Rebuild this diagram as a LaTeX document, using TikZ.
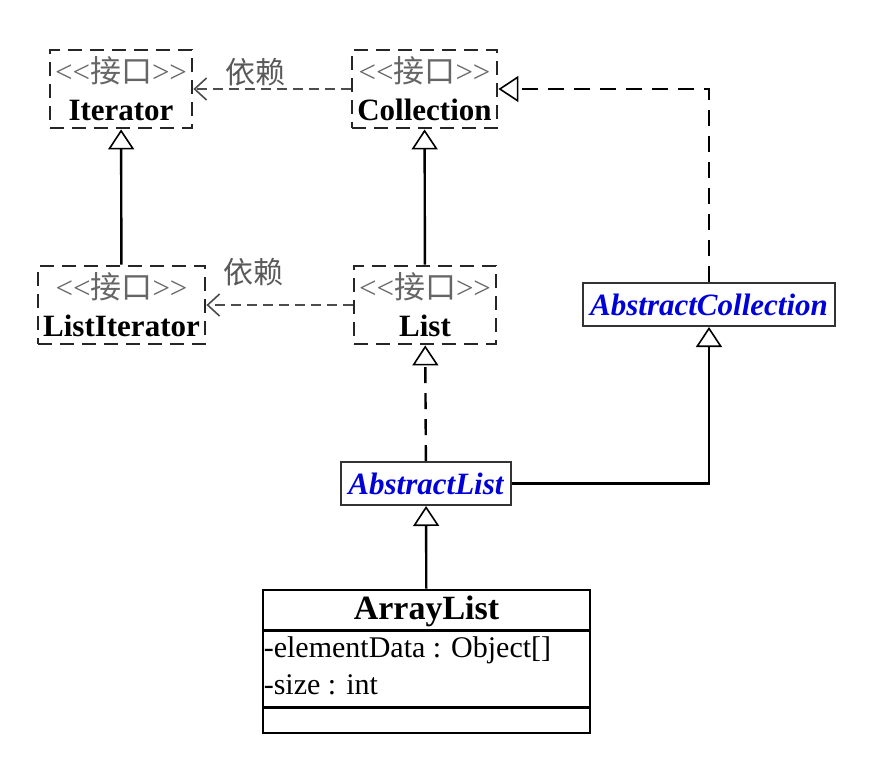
\documentclass[tikz,border=0pt]{standalone}
\usepackage{fontspec}
\setmainfont{Liberation Serif}
\newfontfamily\cjk{Noto Sans CJK SC}
\usepackage{tikz}
\usetikzlibrary{arrows.meta}

\newcommand{\stereo}{\textcolor{black!60}{<\kern0pt<{\cjk 接口}>\kern0pt>}}

\tikzset{
  iface/.style={draw=black!85, line width=2.8pt, dash pattern=on 14pt off 8pt,
    minimum height=78pt, inner sep=0pt, align=center,
    font=\fontsize{31}{38}\selectfont},
  absbox/.style={draw=black!80, line width=2pt, minimum height=43pt, inner sep=0pt,
    text=blue!85!black, font=\fontsize{31}{34}\selectfont\bfseries\itshape},
  classbox/.style={draw, line width=2.8pt, minimum width=327pt, minimum height=143pt, inner sep=0pt},
  txt/.style={inner sep=0pt, font=\fontsize{30}{34}\selectfont},
  depends/.style={draw=black!70, line width=1.8pt, dash pattern=on 10pt off 6pt,
    -{Straight Barb[length=12pt,width=22pt,line width=1.6pt]}},
  inherit/.style={draw, line width=2.4pt,
    -{Triangle[open,length=20pt,width=26pt,fill=white,line width=1.6pt]}},
  realize/.style={inherit, dash pattern=on 16pt off 10pt}
}

\begin{document}
\begin{tikzpicture}[x=1pt,y=-1pt]
  \useasboundingbox (0,0) rectangle (870,780);

  \draw (121,89) node[iface, minimum width=142pt] (iterator) {\stereo\\\textbf{Iterator}};
  \draw (424.5,89) node[iface, minimum width=145pt] (collection) {\stereo\\\textbf{Collection}};
  \draw (121.5,305) node[iface, minimum width=167pt] (listiter) {\stereo\\\textbf{ListIterator}};
  \draw (425,305) node[iface, minimum width=142pt] (list) {\stereo\\\textbf{List}};
  \draw (709,304.5) node[absbox, minimum width=252pt] (abscoll) {AbstractCollection};
  \draw (426,483.5) node[absbox, minimum width=170pt] (abslist) {AbstractList};

  % ArrayList class box
  \draw (426.5,661.5) node[classbox] (arraylist) {};
  \draw (426.5,611) node[txt, font=\fontsize{34}{36}\selectfont\bfseries] (alname) {ArrayList};
  \draw[line width=2.4pt] ([yshift=-42pt]arraylist.north west) -- ([yshift=-42pt]arraylist.north east);
  \draw[line width=2.4pt] ([yshift=27pt]arraylist.south west) -- ([yshift=27pt]arraylist.south east);
  \draw ([xshift=2pt,yshift=-62pt]arraylist.north west) node[txt, anchor=west] (attrdata) {-elementData : Object[]};
  \draw ([xshift=2pt,yshift=-96pt]arraylist.north west) node[txt, anchor=west] (attrsize) {-size : int};

  % dependencies
  \path[depends] (collection) edge (iterator);
  \draw (255,72) node[txt, text=black!65] (dep1) {\cjk 依赖};
  \path[depends] (list) edge (listiter);
  \draw (253,272) node[txt, text=black!65] (dep2) {\cjk 依赖};

  % generalisation
  \path[inherit] (listiter) edge (iterator);
  \path[inherit] (list) edge (collection);
  \path[realize] (abslist) edge (list);
  \draw[realize] (abscoll) |- (collection);
  \draw[inherit] (abslist) -| (abscoll);
  \path[inherit] (arraylist) edge (abslist);
\end{tikzpicture}
\end{document}
